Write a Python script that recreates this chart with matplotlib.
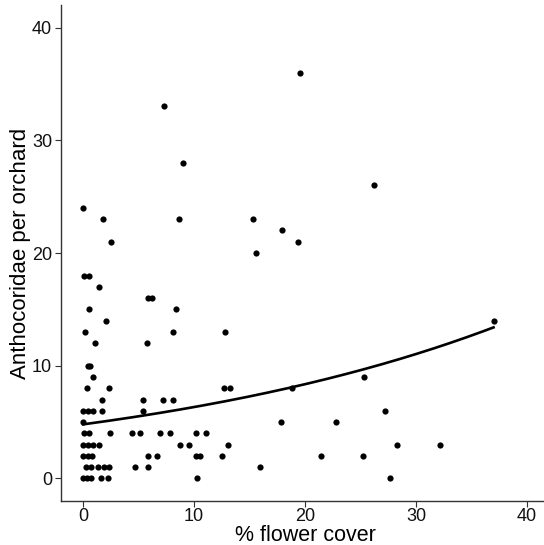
import numpy as np
import matplotlib
matplotlib.use("Agg")
import matplotlib.pyplot as plt

plt.rcParams['font.family'] = ['Liberation Sans', 'DejaVu Sans']

# Observations grouped by count (y value) -> flower cover values (x)
counts = {
    36: [19.55],
    33: [7.33],
    28: [9.04],
    26: [26.2],
    24: [0.0],
    23: [1.77, 8.6, 15.3],
    22: [17.95],
    21: [2.5, 19.4],
    20: [15.6],
    18: [0.1, 0.5],
    17: [1.4],
    16: [5.8, 6.2],
    15: [0.48, 8.4],
    14: [2.07, 37.0],
    13: [0.18, 8.1, 12.8],
    12: [1.1, 5.76],
    10: [0.4, 0.65],
    9: [0.93, 25.3],
    8: [0.33, 2.37, 12.67, 13.27, 18.8],
    7: [1.74, 5.35, 7.17, 8.1],
    6: [0.0, 0.4, 0.85, 1.74, 5.35, 27.2],
    5: [0.0, 17.8, 22.8],
    4: [0.1, 0.5, 2.4, 4.4, 5.16, 6.9, 7.8, 10.2, 11.1],
    3: [0.0, 0.4, 0.85, 1.4, 8.77, 9.55, 13.1, 28.3, 32.2],
    2: [0.0, 0.4, 0.75, 5.8, 6.7, 10.2, 10.5, 12.5, 21.4, 25.2],
    1: [0.27, 0.72, 1.3, 1.86, 2.37, 4.7, 5.8, 15.9],
    0: [0.0, 0.36, 0.72, 1.6, 2.2, 10.3, 27.7],
}
flower_cover = np.array([x for y, xs in counts.items() for x in xs])
anthocoridae = np.array([y for y, xs in counts.items() for x in xs], dtype=float)

x_ticks = [0, 10, 20, 30, 40]
y_ticks = [0, 10, 20, 30, 40]

# Fitted log-linear model: fit at x=0 and at x=37
fit_at_min = 4.8
fit_at_max = 13.4
intercept = np.log(fit_at_min)
slope = (np.log(fit_at_max) - np.log(fit_at_min)) / (flower_cover.max() - flower_cover.min())
xs = np.linspace(flower_cover.min(), flower_cover.max(), 200)
ys = np.exp(intercept + slope * xs)

fig = plt.figure(figsize=(5.44, 5.45), dpi=100)
ax = fig.add_axes([61/544, 44/545, (549-61)/544, (540-44)/545])
ax.scatter(flower_cover, anthocoridae, s=20, color='black', zorder=3, linewidths=0)
ax.plot(xs, ys, color='black', lw=1.9, zorder=2)

ax.set_xlim(-2, 42)
ax.set_ylim(-2, 42)
ax.set_xticks(x_ticks)
ax.set_yticks(y_ticks)
ax.tick_params(axis='both', labelsize=13, colors='#333333', length=4, width=0.8,
               labelcolor='#111111', pad=2.5)
ax.tick_params(axis='x', pad=1)
for side in ['top', 'right']:
    ax.spines[side].set_visible(False)
for side in ['left', 'bottom']:
    ax.spines[side].set_color('#333333')
    ax.spines[side].set_linewidth(1.0)
ax.set_xlabel('% flower cover', fontsize=15.5, labelpad=0)
ax.set_ylabel('Anthocoridae per orchard', fontsize=16, labelpad=0.5)

fig.savefig('out.png', dpi=100)
